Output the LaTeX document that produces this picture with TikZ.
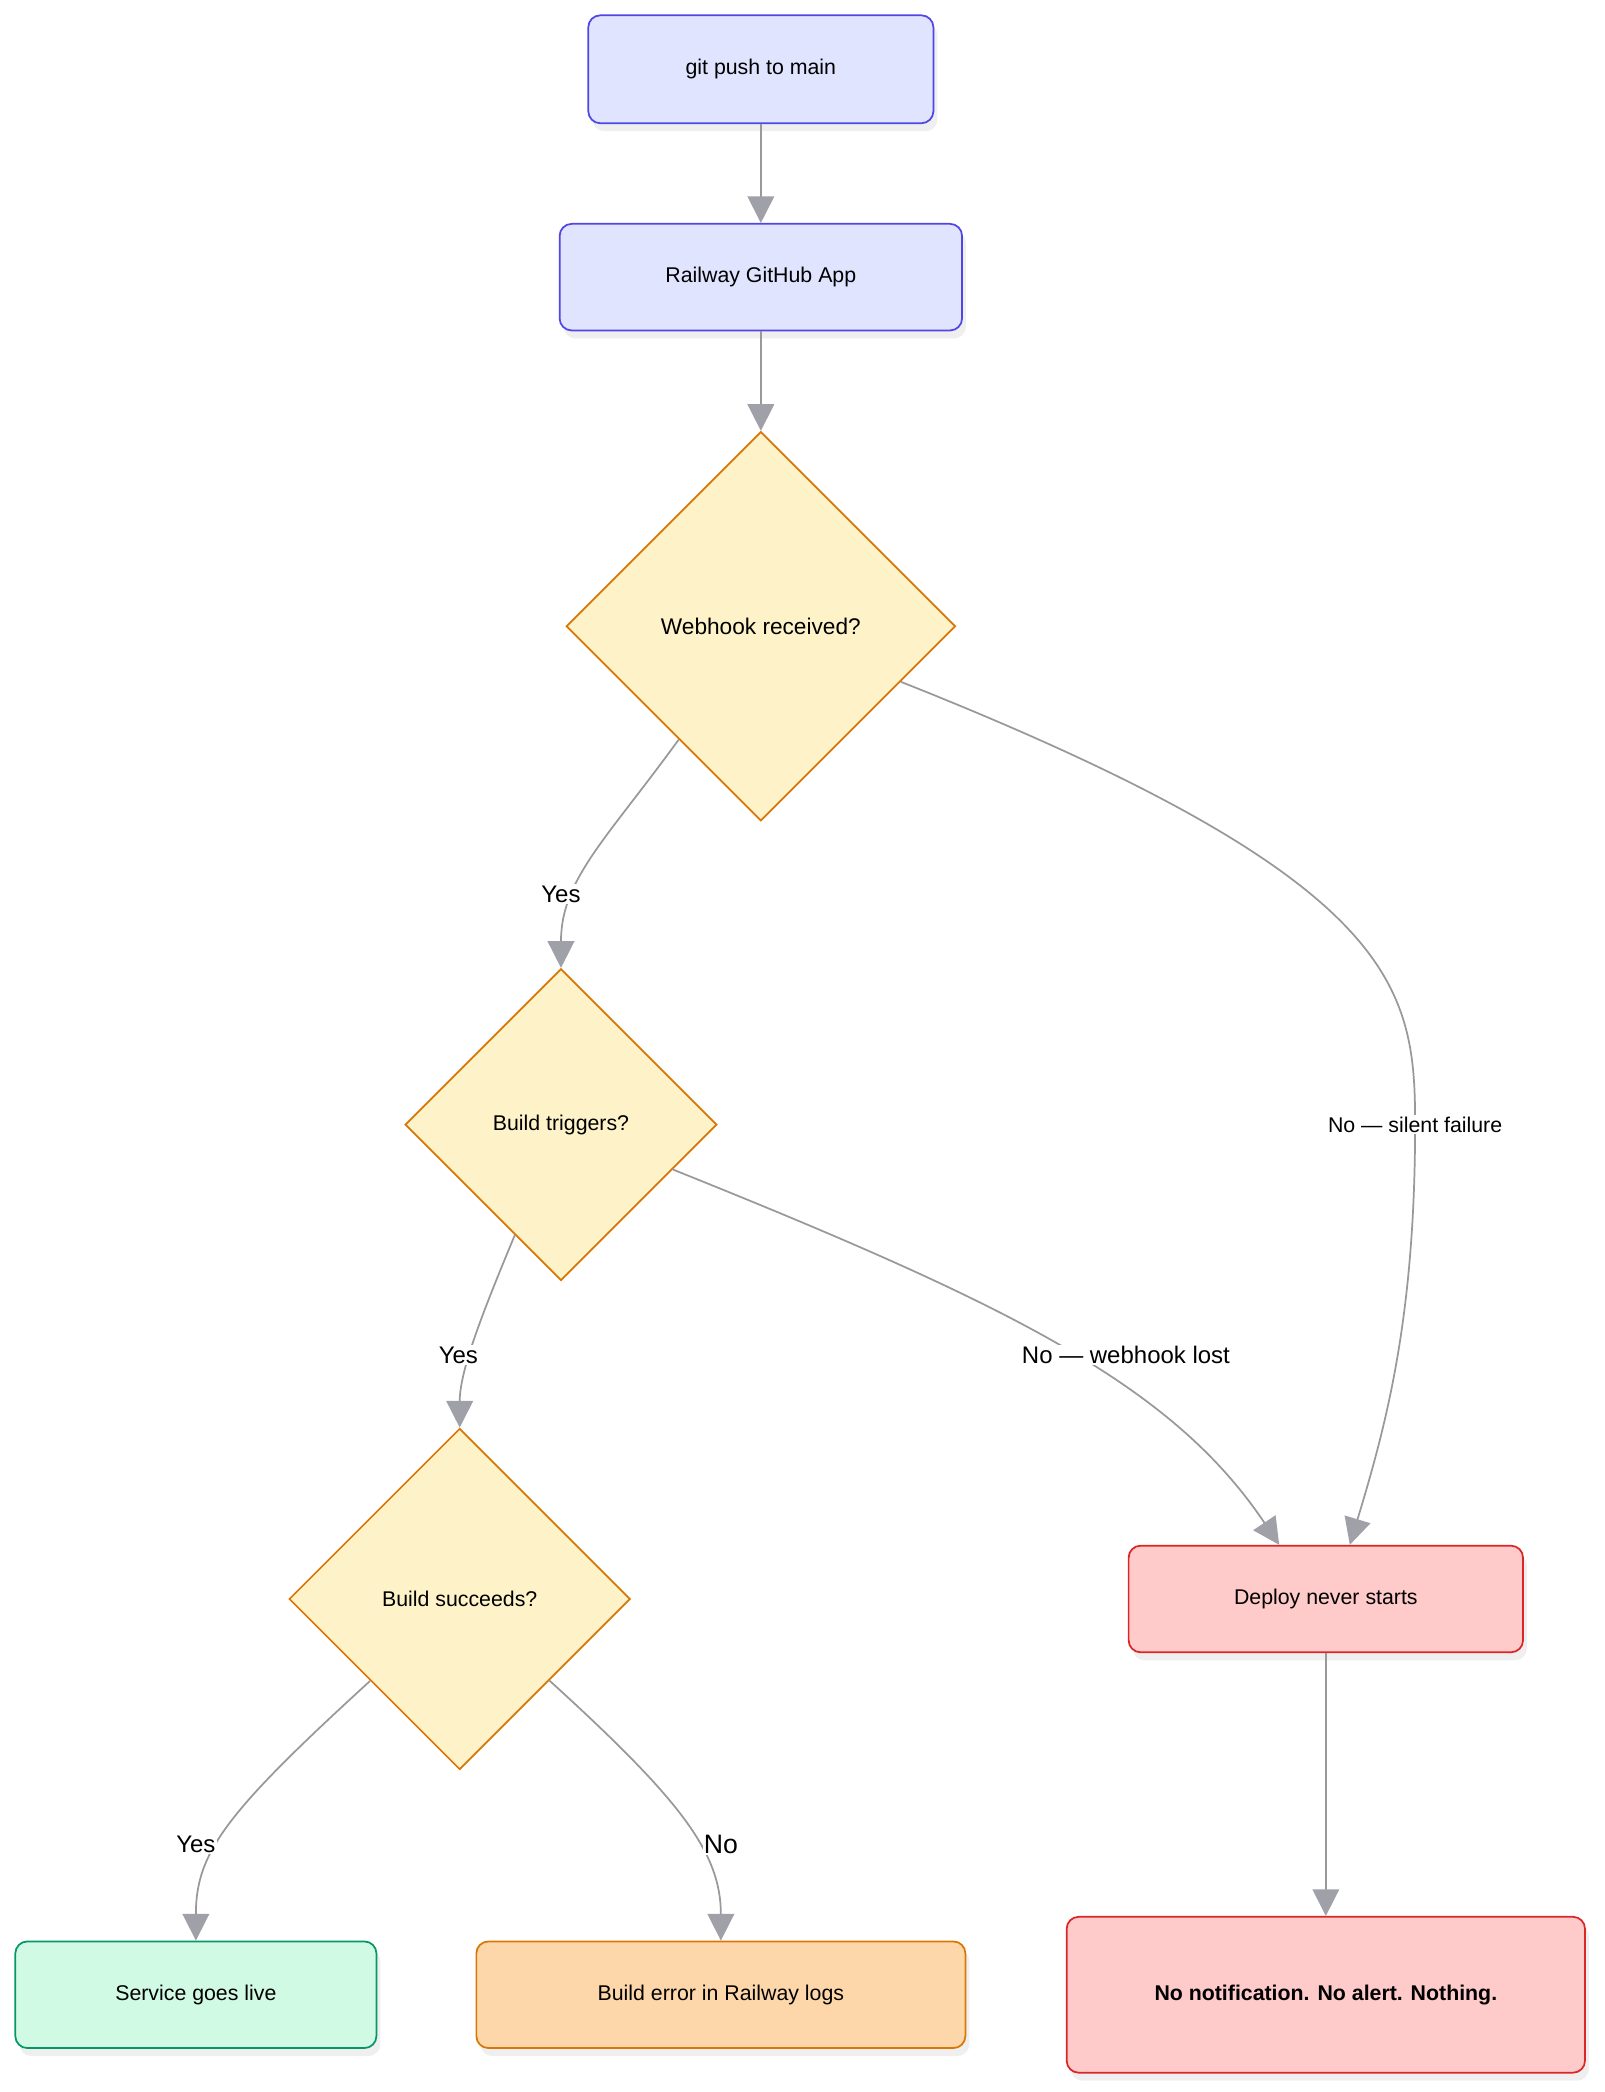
\documentclass[tikz,border=0pt]{standalone}
\usepackage{fontspec}
\setmainfont{Liberation Sans}
\usetikzlibrary{positioning,shapes.geometric,arrows.meta,shadows}
\definecolor{bluefill}{HTML}{E0E4FF}
\definecolor{bluedraw}{HTML}{4F46E5}
\definecolor{decfill}{HTML}{FDF2C8}
\definecolor{decdraw}{HTML}{D97706}
\definecolor{okfill}{HTML}{D1FAE5}
\definecolor{okdraw}{HTML}{059669}
\definecolor{errfill}{HTML}{FDD7AA}
\definecolor{badfill}{HTML}{FECACA}
\definecolor{baddraw}{HTML}{DC2626}
\definecolor{linkgray}{HTML}{999999}
\definecolor{tipgray}{HTML}{A0A0A8}
\tikzset{
  box/.style={rectangle, rounded corners=9pt, draw, line width=1.3pt, inner sep=0pt,
    font=\fontsize{16}{19}\selectfont, drop shadow={shadow xshift=3pt, shadow yshift=-6pt, opacity=0.12}},
  stage/.style={box, fill=bluefill, draw=bluedraw},
  check/.style={diamond, aspect=1, draw=decdraw, fill=decfill, line width=1.3pt, inner sep=0pt,
    font=\fontsize{16}{19}\selectfont},
  link/.style={draw=linkgray, line width=1.3pt, -{Triangle[length=20pt,width=20pt,color=tipgray,fill=tipgray]}},
  tag/.style={font=\fontsize{18}{21}\selectfont, fill=white, inner sep=1pt}
}
\begin{document}
\begin{tikzpicture}[x=1pt,y=-1pt]
\useasboundingbox[fill=white] (0,0) rectangle (1204,1570);
% main flow
\node[stage, minimum width=259pt, minimum height=81pt] (push) at (571,52) {git push to main};
\node[stage, minimum width=302pt, minimum height=80pt] (app) at (571,208) {Railway GitHub App};
\node[check, minimum size=292pt, font=\fontsize{17}{20}\selectfont] (hook) at (571,470) {Webhook received?};
\node[check, minimum size=234pt] (trig) at (421,844) {Build triggers?};
\node[check, minimum size=256pt] (ok) at (345,1200) {Build succeeds?};
% end states
\node[box, fill=okfill, draw=okdraw, minimum width=271pt, minimum height=80pt] (live) at (147,1497) {Service goes live};
\node[box, fill=errfill, draw=decdraw, minimum width=367pt, minimum height=80pt] (err) at (541,1497) {Build error in Railway logs};
\node[box, fill=badfill, draw=baddraw, minimum width=296pt, minimum height=80pt] (never) at (995,1200) {Deploy never starts};
\node[box, fill=badfill, draw=baddraw, minimum width=389pt, minimum height=117pt, font=\bfseries\fontsize{16}{19}\selectfont] (nothing) at (995,1497) {No notification. No alert. Nothing.};
% connectors
\draw[link] (push) -- (app);
\draw[link] (app) -- (hook);
\draw[link] (hook) .. controls (455,630) and (421,660) .. (trig.north);
\draw[link] (hook) .. controls (1050,660) and (1062,740) .. (1062,844)
  .. controls (1062,990) and (1040,1070) .. ([xshift=18pt]never.north);
\draw[link] (trig) .. controls (760,980) and (880,1040) .. ([xshift=-35pt]never.north);
\draw[link] (trig) .. controls (360,990) and (345,1030) .. (ok.north);
\draw[link] (ok) .. controls (170,1360) and (147,1390) .. (live.north);
\draw[link] (ok) .. controls (510,1350) and (541,1390) .. (err.north);
\draw[link] (never) -- (nothing);
% labels
\node[tag] (y1) at (421,671) {Yes};
\node[tag, font=\fontsize{16}{19}\selectfont] (n1) at (1062,844) {No — silent failure};
\node[tag] (y2) at (344,1017) {Yes};
\node[tag] (n2) at (845,1017) {No — webhook lost};
\node[tag] (y3) at (147,1384) {Yes};
\node[tag, font=\fontsize{20}{24}\selectfont] (n3) at (541,1384) {No};
\end{tikzpicture}
\end{document}
